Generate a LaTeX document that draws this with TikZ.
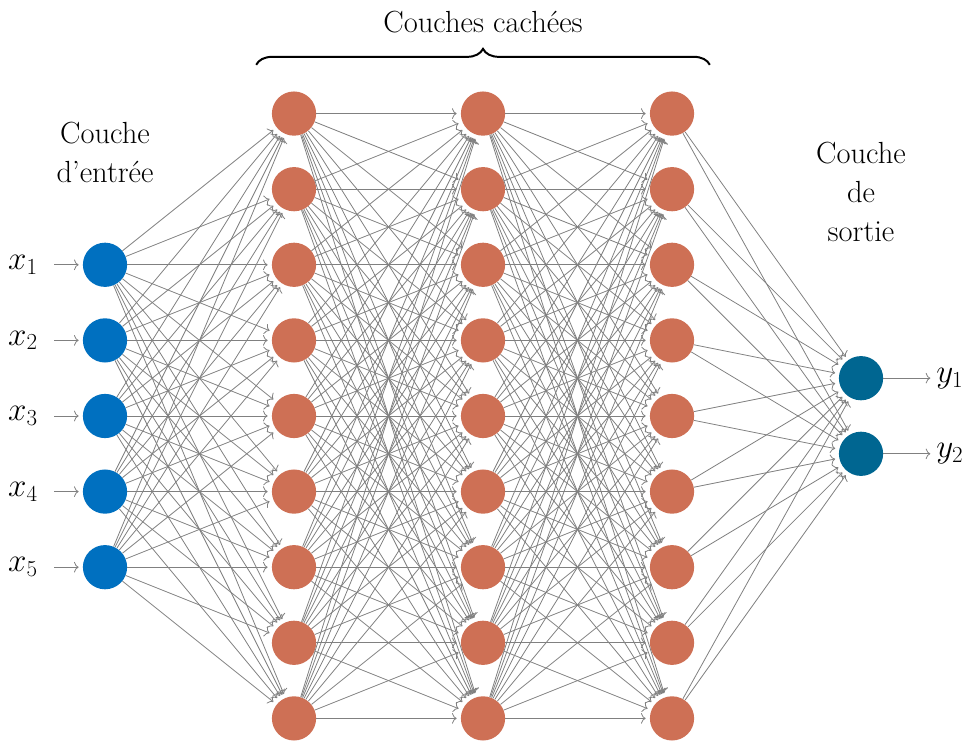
\documentclass[tikz,border=0pt]{standalone}
\usepackage{xcolor}
\usetikzlibrary{arrows.meta, decorations.pathreplacing}
\definecolor{inblue}{RGB}{0,112,192}
\definecolor{hidorange}{RGB}{206,112,85}
\definecolor{outblue}{RGB}{0,102,145}
\begin{document}
\begin{tikzpicture}[
    >={To[length=3.5pt, width=8pt]},
    neuron/.style={circle, minimum size=11.7mm, inner sep=0pt},
    input/.style={neuron, fill=inblue},
    hidden/.style={neuron, fill=hidorange},
    output/.style={neuron, fill=outblue},
    link/.style={->, draw=gray, line width=0.6pt, shorten >=3pt},
    layertext/.style={font=\fontsize{23}{29.6}\selectfont, align=center}
]
    \useasboundingbox (-2.778,-8.624) rectangle (22.83,11.005);
    % Input layer
    \foreach \i in {1,...,5} {
        \node[input] (i\i) at (0,{6-2*\i}) {};
        \node[layertext] (x\i) at (-2.17,{6-2*\i}) {$x_{\i}$};
        \draw[link, shorten <=9pt] (x\i) -- (i\i);
    }
    % Hidden layers
    \foreach \l in {1,2,3} {
        \foreach \j in {1,...,9} {
            \node[hidden] (h\l-\j) at ({5*\l},{10-2*\j}) {};
        }
    }
    % Output layer
    \foreach \k in {1,2} {
        \node[output] (o\k) at (20,{3-2*\k}) {};
        \node[layertext] (y\k) at (22.35,{3-2*\k}) {$y_{\k}$};
        \draw[link, shorten >=1pt] (o\k) -- (y\k);
    }
    % Edges from input layer
    \foreach \i in {1,...,5} {
        \foreach \j in {1,...,9} {
            \draw[link] (i\i) -- (h1-\j);
        }
    }
    % Edges between hidden layers
    \foreach \l/\m in {1/2, 2/3} {
        \foreach \i in {1,...,9} {
            \foreach \j in {1,...,9} {
                \draw[link] (h\l-\i) -- (h\m-\j);
            }
        }
    }
    % Edges to output layer
    \foreach \i in {1,...,9} {
        \foreach \k in {1,2} {
            \draw[link] (h3-\i) -- (o\k);
        }
    }
    % Layer titles
    \node[layertext] (tin) at (0,6.98) {Couche\\d'entrée};
    \node[layertext] (tout) at (20,5.93) {Couche\\de\\sortie};
    \node[layertext] (thid) at (10,10.42) {Couches cachées};
    \draw[decorate, decoration={brace, amplitude=12pt}, line width=1.5pt]
        (4,9.29) -- (16,9.29);
\end{tikzpicture}
\end{document}
